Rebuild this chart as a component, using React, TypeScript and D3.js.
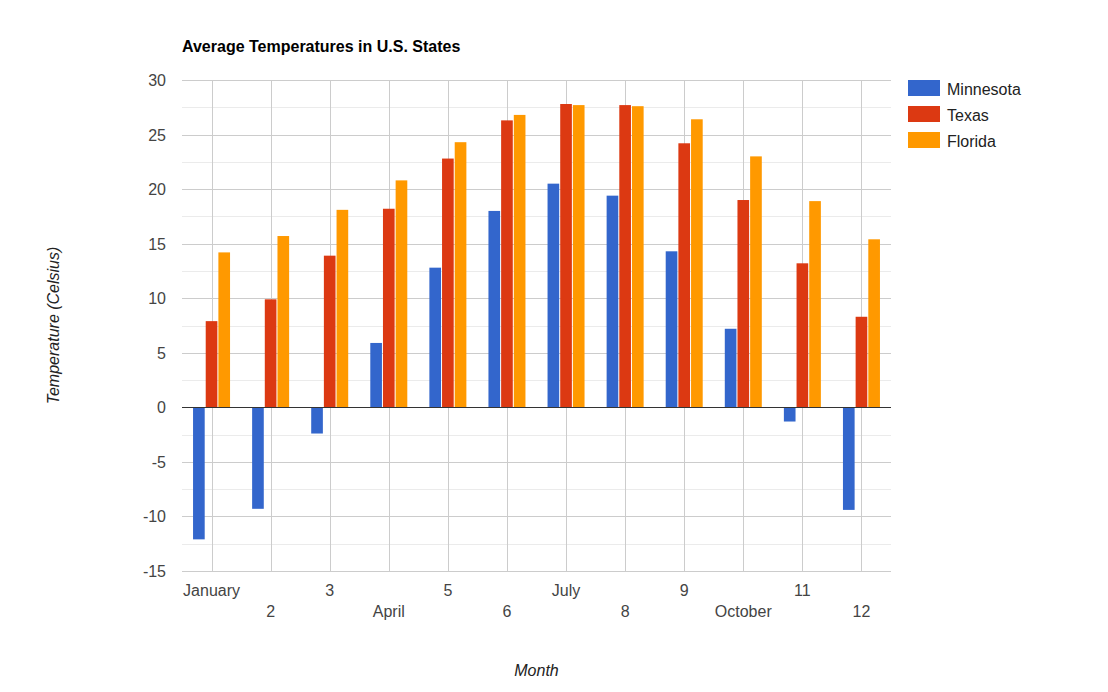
import React, { useEffect, useRef } from "react";
import * as d3 from "d3";

const months = ["January", "2", "3", "April", "5", "6", "July", "8", "9", "October", "11", "12"];
const series = ["Minnesota", "Texas", "Florida"];
const colors = ["#3366cc", "#dc3912", "#ff9900"];

const minnesota = [-12.1, -9.3, -2.4, 5.9, 12.8, 18.0, 20.5, 19.4, 14.3, 7.2, -1.3, -9.4];
const texas = [7.9, 9.9, 13.9, 18.2, 22.8, 26.3, 27.8, 27.7, 24.2, 19.0, 13.2, 8.3];
const florida = [14.2, 15.7, 18.1, 20.8, 24.3, 26.8, 27.7, 27.6, 26.4, 23.0, 18.9, 15.4];

const yTicks = [-15, -10, -5, 0, 5, 10, 15, 20, 25, 30];
const yMinor = [-12.5, -7.5, -2.5, 2.5, 7.5, 12.5, 17.5, 22.5, 27.5];

const FONT = "'Liberation Sans', Arial, sans-serif";

const App: React.FC = () => {
  const svgRef = useRef<SVGSVGElement>(null);

  useEffect(() => {
    if (!svgRef.current) return;
    const svg = d3.select(svgRef.current);
    svg.selectAll("*").remove();

    const width = 1108;
    const height = 692;
    const left = 182, right = 891, top = 80, bottom = 571;

    const x0 = d3.scaleBand<string>().domain(months).range([left, right]).padding(0);
    const groupW = 37;
    const x1 = d3.scaleBand<string>().domain(series).range([0, groupW]).paddingInner(0.08);
    const y = d3.scaleLinear().domain([-15, 30]).range([bottom, top]);

    svg.attr("width", width).attr("height", height).style("font-family", FONT);

    // title
    svg.append("text")
      .attr("x", left)
      .attr("y", 52)
      .attr("font-size", 16)
      .attr("font-weight", "bold")
      .attr("fill", "#000")
      .text("Average Temperatures in U.S. States");

    const grid = svg.append("g");
    grid.selectAll("line.minor")
      .data(yMinor)
      .join("line")
      .attr("x1", left).attr("x2", right)
      .attr("y1", (d) => Math.round(y(d)) + 0.5)
      .attr("y2", (d) => Math.round(y(d)) + 0.5)
      .attr("stroke", "#ebebeb");

    grid.selectAll("line.major")
      .data(yTicks)
      .join("line")
      .attr("x1", left).attr("x2", right)
      .attr("y1", (d) => Math.round(y(d)) + 0.5)
      .attr("y2", (d) => Math.round(y(d)) + 0.5)
      .attr("stroke", "#cccccc");

    svg.append("g").selectAll("line")
      .data(months)
      .join("line")
      .attr("x1", (d) => Math.round(x0(d)! + x0.bandwidth() / 2) + 0.5)
      .attr("x2", (d) => Math.round(x0(d)! + x0.bandwidth() / 2) + 0.5)
      .attr("y1", top).attr("y2", bottom)
      .attr("stroke", "#cccccc");

    // y tick labels
    svg.append("g").selectAll("text")
      .data(yTicks)
      .join("text")
      .attr("x", 166)
      .attr("y", (d) => y(d) + 6)
      .attr("text-anchor", "end")
      .attr("font-size", 16)
      .attr("fill", "#444")
      .text((d) => d);

    // bars
    const all = [minnesota, texas, florida];
    series.forEach((s, si) => {
      svg.append("g").selectAll("rect")
        .data(all[si])
        .join("rect")
        .attr("x", (_, i) => x0(months[i])! + x0.bandwidth() / 2 - groupW / 2 + x1(s)!)
        .attr("width", x1.bandwidth())
        .attr("y", (d) => Math.min(y(d), y(0)))
        .attr("height", (d) => Math.abs(y(d) - y(0)))
        .attr("fill", colors[si]);
    });

    // baseline
    svg.append("line")
      .attr("x1", left).attr("x2", right)
      .attr("y1", Math.round(y(0)) + 0.5).attr("y2", Math.round(y(0)) + 0.5)
      .attr("stroke", "#333");

    // x labels, staggered on two rows
    svg.append("g").selectAll("text")
      .data(months)
      .join("text")
      .attr("x", (d) => x0(d)! + x0.bandwidth() / 2)
      .attr("y", (_, i) => (i % 2 === 0 ? 596 : 617))
      .attr("text-anchor", "middle")
      .attr("font-size", 16)
      .attr("fill", "#444")
      .text((d) => d);

    // axis titles
    svg.append("text")
      .attr("x", (left + right) / 2)
      .attr("y", 676)
      .attr("text-anchor", "middle")
      .attr("font-size", 16)
      .attr("font-style", "italic")
      .attr("fill", "#222")
      .text("Month");

    svg.append("text")
      .attr("transform", `translate(59, ${(top + bottom) / 2}) rotate(-90)`)
      .attr("text-anchor", "middle")
      .attr("font-size", 16)
      .attr("font-style", "italic")
      .attr("fill", "#222")
      .text("Temperature (Celsius)");

    // legend
    const legend = svg.append("g").attr("transform", "translate(908, 80)");
    series.forEach((s, i) => {
      legend.append("rect")
        .attr("x", 0).attr("y", i * 26)
        .attr("width", 32).attr("height", 16)
        .attr("fill", colors[i]);
      legend.append("text")
        .attr("x", 39).attr("y", i * 26 + 14.5)
        .attr("font-size", 16)
        .attr("fill", "#222")
        .text(s);
    });
  }, []);

  return (
    <div style={{ position: "absolute", left: 0, top: 0, background: "#fff" }}>
      <svg ref={svgRef} />
    </div>
  );
};

export default App;
